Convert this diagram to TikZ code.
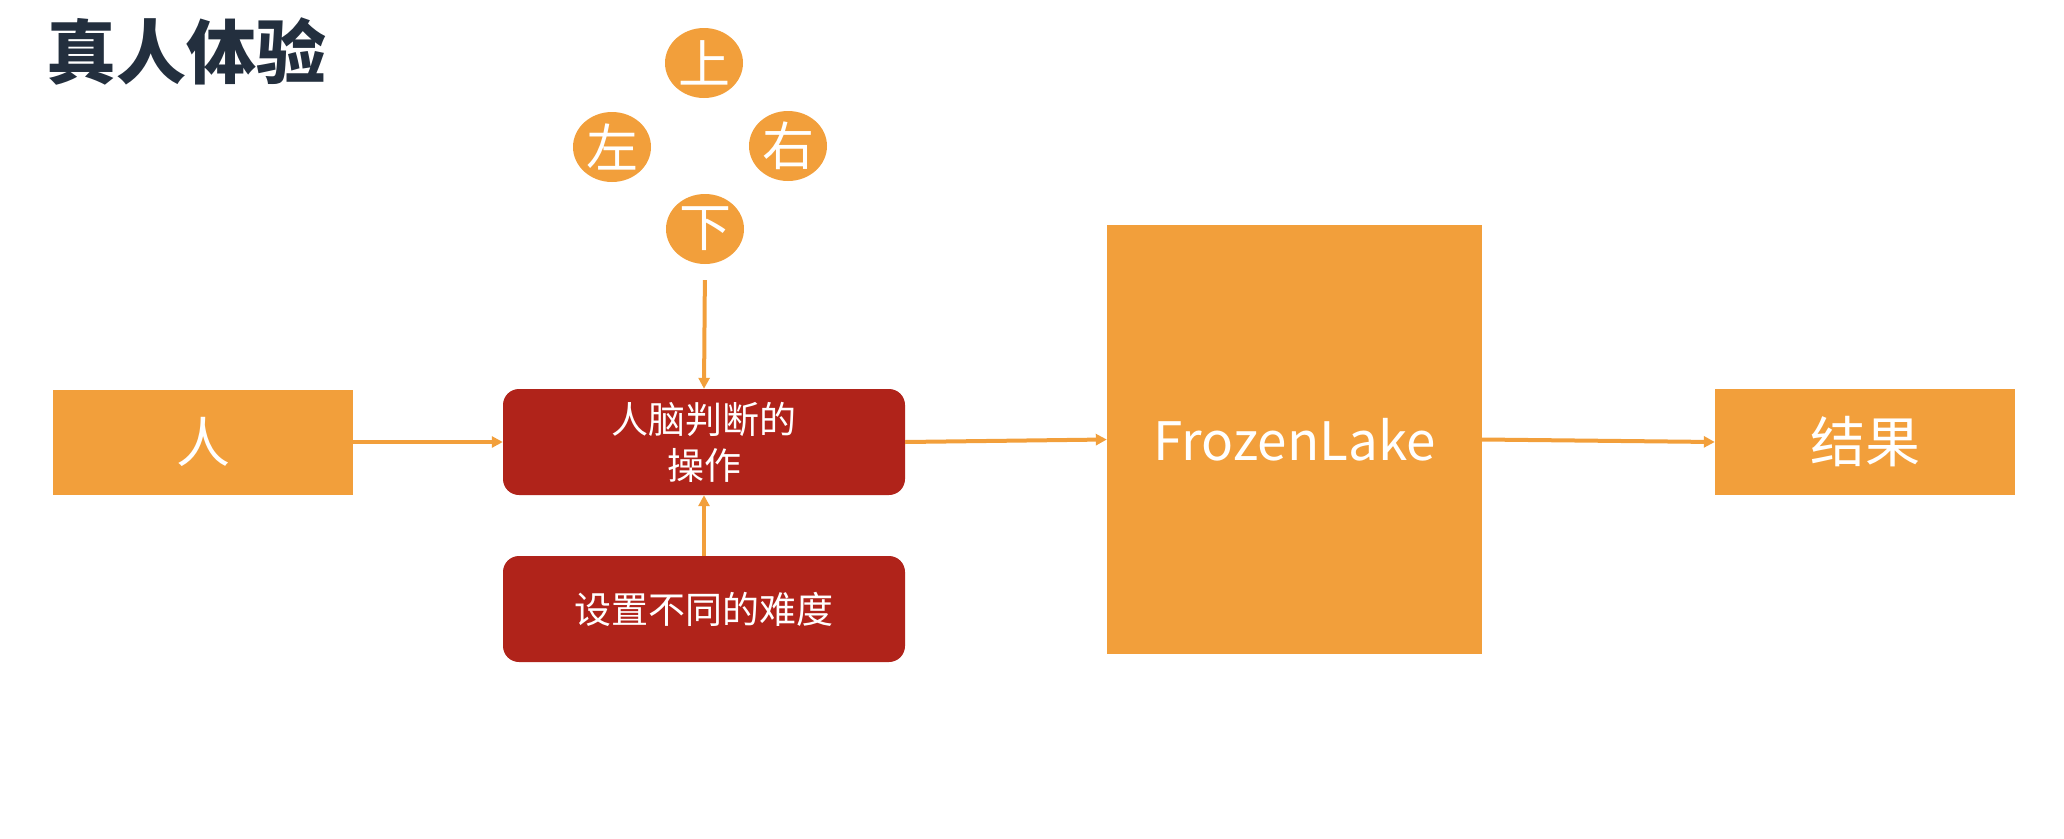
\documentclass[tikz,border=0pt]{standalone}
\usepackage{fontspec}
\setmainfont{Noto Sans CJK SC}
\usepackage{xcolor}
\usepackage{tikz}
\usetikzlibrary{positioning, arrows.meta, shapes.geometric}
\definecolor{lakeorange}{HTML}{F29F3B}
\definecolor{brainred}{HTML}{B0231A}
\definecolor{titlenavy}{HTML}{232F3E}

\tikzset{
  orangebox/.style={fill=lakeorange, text=white, inner sep=0pt},
  redbox/.style={fill=brainred, text=white, rounded corners=16pt, inner sep=0pt,
    minimum width=402pt, minimum height=106pt, align=center,
    font=\fontsize{37}{46}\selectfont},
  keyball/.style={ellipse, fill=lakeorange, text=white, inner sep=0pt,
    minimum width=78pt, minimum height=70pt, font=\fontsize{52}{52}\selectfont},
  flow/.style={draw=lakeorange, line width=4pt, -{Triangle[length=11pt, width=11pt]}}
}

\begin{document}
\begin{tikzpicture}[x=1pt, y=-1pt]
    \useasboundingbox (0,0) rectangle (2064,838);
    \node[anchor=west, inner sep=0pt, text=titlenavy, font=\bfseries\fontsize{70}{70}\selectfont] (title) at (46,51) {真人体验};
    \node[keyball] (up) at (704,63) {上};
    \node[keyball] (left) at (612,147) {左};
    \node[keyball] (right) at (788,146) {右};
    \node[keyball] (down) at (705,229) {下};
    \node[orangebox, minimum width=300pt, minimum height=105pt, font=\fontsize{54}{54}\selectfont] (human) at (203,442) {人};
    \node[redbox] (brain) at (704,442) {人脑判断的\\操作};
    \node[redbox] (level) at (704,609) {设置不同的难度};
    \node[orangebox, minimum width=375pt, minimum height=429pt, font=\fontsize{53}{53}\selectfont] (lake) at (1294.5,439.5) {FrozenLake};
    \node[orangebox, minimum width=300pt, minimum height=106pt, font=\fontsize{55}{55}\selectfont] (result) at (1865,442) {结果};
    \draw[flow, shorten <=16pt] (down.south) -- (brain.north);
    \draw[flow] (level.north) -- (brain.south);
    \draw[flow] (human.east) -- (brain.west);
    \draw[flow] (brain.east) -- (lake.west);
    \draw[flow] (lake.east) -- (result.west);
\end{tikzpicture}
\end{document}
